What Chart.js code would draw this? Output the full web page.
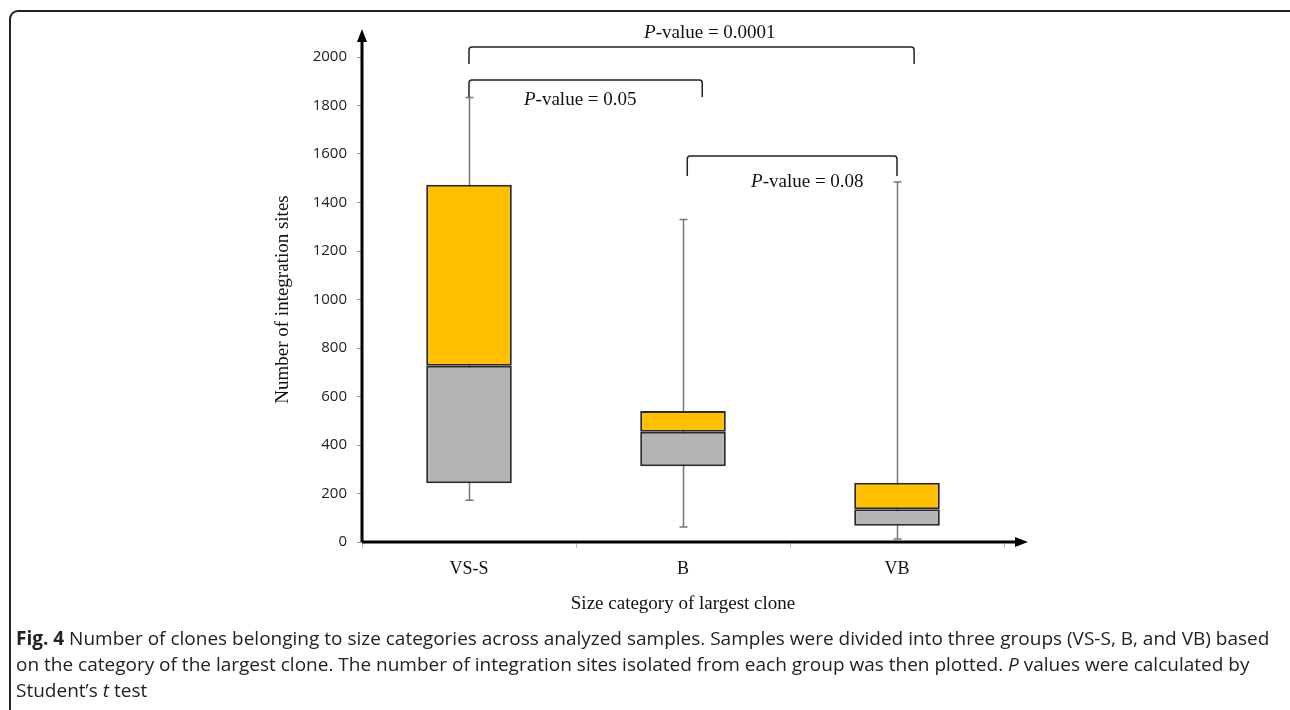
<!DOCTYPE html>
<html>
<head>
<meta charset="utf-8">
<script src="https://cdn.jsdelivr.net/npm/chart.js@4"></script>
<style>
    html, body { margin: 0; padding: 0; background: #ffffff; }
    body { width: 1290px; height: 710px; position: relative; overflow: hidden; }
    #frame {
        position: absolute; left: 9px; top: 10px; width: 1300px; height: 720px;
        border: 2px solid #222; border-radius: 9px; box-sizing: border-box;
    }
    #chart { position: absolute; left: 0; top: 0; }
    #caption {
        position: absolute; left: 16px; top: 625px; width: 1262px;
        font-family: "Open Sans", sans-serif; font-size: 19px; line-height: 26px; color: #222;
    }
</style>
</head>
<body>
<div id="frame"></div>
<canvas id="chart" width="1290" height="710"></canvas>
<div id="caption"><b>Fig. 4</b> Number of clones belonging to size categories across analyzed samples. Samples were divided into three groups (VS-S, B, and VB) based on the category of the largest clone. The number of integration sites isolated from each group was then plotted. <i>P</i> values were calculated by Student’s <i>t</i> test</div>
<script>
// дані боксплоту
const categories = ["VS-S", "B", "VB"];
const whiskerMin = [172, 62, 12];
const q1 = [242, 312, 67];
const medians = [727, 455, 135];
const q3 = [1473, 540, 244];
const whiskerMax = [1833, 1330, 1485];
const yTicks = [0, 200, 400, 600, 800, 1000, 1200, 1400, 1600, 1800, 2000];

// дужки з P-значеннями (x — у позиціях категорій, y — у значеннях осі)
const bracketFrom = [0, 0, 1.02];
const bracketTo = [2.08, 1.09, 2.0];
const bracketTop = [2041, 1905, 1592];
const bracketLeg = [1971, 1835, 1509];
const pLabels = ["0.0001", "0.05", "0.08"];
const pLabelX = [0.818, 0.257, 1.318];
const pLabelY = [2099, 1823, 1485];

const serif = '"Liberation Serif", "Times New Roman", serif';

const whiskerPlugin = {
    id: "whiskers",
    beforeDatasetsDraw(chart) {
        const ctx = chart.ctx;
        const x = chart.scales.x;
        const y = chart.scales.y;
        ctx.save();
        ctx.strokeStyle = "#777777";
        ctx.lineWidth = 1.5;
        categories.forEach((c, i) => {
            const px = Math.round(x.getPixelForValue(i)) + 0.5;
            const top = y.getPixelForValue(whiskerMax[i]);
            const bot = y.getPixelForValue(whiskerMin[i]);
            ctx.beginPath();
            ctx.moveTo(px, top);
            ctx.lineTo(px, bot);
            ctx.moveTo(px - 4, top);
            ctx.lineTo(px + 4, top);
            ctx.moveTo(px - 4, bot);
            ctx.lineTo(px + 4, bot);
            ctx.stroke();
        });
        ctx.restore();
    },
};

const decorPlugin = {
    id: "decor",
    afterDraw(chart) {
        const ctx = chart.ctx;
        const x = chart.scales.x;
        const y = chart.scales.y;
        const area = chart.chartArea;
        ctx.save();

        // стрілки осей
        ctx.strokeStyle = "#000000";
        ctx.fillStyle = "#000000";
        ctx.lineWidth = 3;
        ctx.beginPath();
        ctx.moveTo(area.left, area.bottom);
        ctx.lineTo(area.left, 38);
        ctx.moveTo(area.left, area.bottom);
        ctx.lineTo(area.right + 16, area.bottom);
        ctx.stroke();
        ctx.beginPath();
        ctx.moveTo(area.left, 29);
        ctx.lineTo(area.left - 5, 42);
        ctx.lineTo(area.left + 5, 42);
        ctx.closePath();
        ctx.fill();
        ctx.beginPath();
        ctx.moveTo(area.right + 24, area.bottom);
        ctx.lineTo(area.right + 11, area.bottom - 5);
        ctx.lineTo(area.right + 11, area.bottom + 5);
        ctx.closePath();
        ctx.fill();

        // дужки
        ctx.strokeStyle = "#222222";
        ctx.lineWidth = 1.5;
        ctx.lineJoin = "round";
        bracketFrom.forEach((from, i) => {
            const x1 = x.getPixelForValue(from);
            const x2 = x.getPixelForValue(bracketTo[i]);
            const yt = y.getPixelForValue(bracketTop[i]);
            const yl = y.getPixelForValue(bracketLeg[i]);
            ctx.beginPath();
            ctx.moveTo(x1, yl);
            ctx.lineTo(x1, yt + 3);
            ctx.quadraticCurveTo(x1, yt, x1 + 3, yt);
            ctx.lineTo(x2 - 3, yt);
            ctx.quadraticCurveTo(x2, yt, x2, yt + 3);
            ctx.lineTo(x2, yl);
            ctx.stroke();
        });

        // підписи P-value
        ctx.fillStyle = "#111111";
        ctx.textBaseline = "middle";
        ctx.textAlign = "left";
        pLabels.forEach((p, i) => {
            let px = x.getPixelForValue(pLabelX[i]);
            const py = y.getPixelForValue(pLabelY[i]);
            ctx.font = "italic 19px " + serif;
            ctx.fillText("P", px, py);
            px += ctx.measureText("P").width;
            ctx.font = "19px " + serif;
            ctx.fillText("-value = " + p, px, py);
        });
        ctx.restore();
    },
};

const data = {
    labels: categories,
    datasets: [
        {
            label: "Q1–медіана",
            data: categories.map((c, i) => [q1[i], medians[i]]),
            backgroundColor: "#B4B4B4",
            borderColor: "#2a2a2a",
            borderWidth: 2,
            borderSkipped: false,
        },
        {
            label: "Медіана–Q3",
            data: categories.map((c, i) => [medians[i], q3[i]]),
            backgroundColor: "#FFC000",
            borderColor: "#2a2a2a",
            borderWidth: 2,
            borderSkipped: false,
        },
    ],
};

const options = {
    responsive: false,
    animation: false,
    grouped: false,
    categoryPercentage: 1,
    barPercentage: 0.4,
    layout: {
        padding: { left: 262, right: 286, top: 57, bottom: 85 },
    },
    plugins: {
        legend: { display: false },
        tooltip: { enabled: false },
    },
    scales: {
        x: {
            afterFit: (scale) => { scale.height = 83; },
            border: { display: false },
            grid: {
                display: true,
                drawOnChartArea: false,
                offset: true,
                tickLength: 6,
                color: "#BBBBBB",
            },
            ticks: {
                color: "#111111",
                padding: 10,
                font: { family: serif, size: 18 },
            },
            title: {
                display: true,
                text: "Size category of largest clone",
                color: "#111111",
                padding: 10,
                font: { family: serif, size: 19 },
            },
        },
        y: {
            min: 0,
            max: 2000,
            afterFit: (scale) => { scale.width = 100; },
            afterBuildTicks: (scale) => {
                scale.ticks = yTicks.map((v) => ({ value: v }));
            },
            border: { display: false },
            grid: {
                display: true,
                drawOnChartArea: false,
                tickLength: 5,
                color: "#999999",
            },
            ticks: {
                color: "#222222",
                padding: 10,
                font: { family: '"Open Sans", sans-serif', size: 15 },
                callback: (value) => String(value),
            },
            title: {
                display: true,
                text: "Number of integration sites",
                color: "#111111",
                padding: 10,
                font: { family: serif, size: 19 },
            },
        },
    },
};

new Chart(document.getElementById("chart").getContext("2d"), {
    type: "bar",
    data: data,
    options: options,
    plugins: [whiskerPlugin, decorPlugin],
});
</script>
</body>
</html>
